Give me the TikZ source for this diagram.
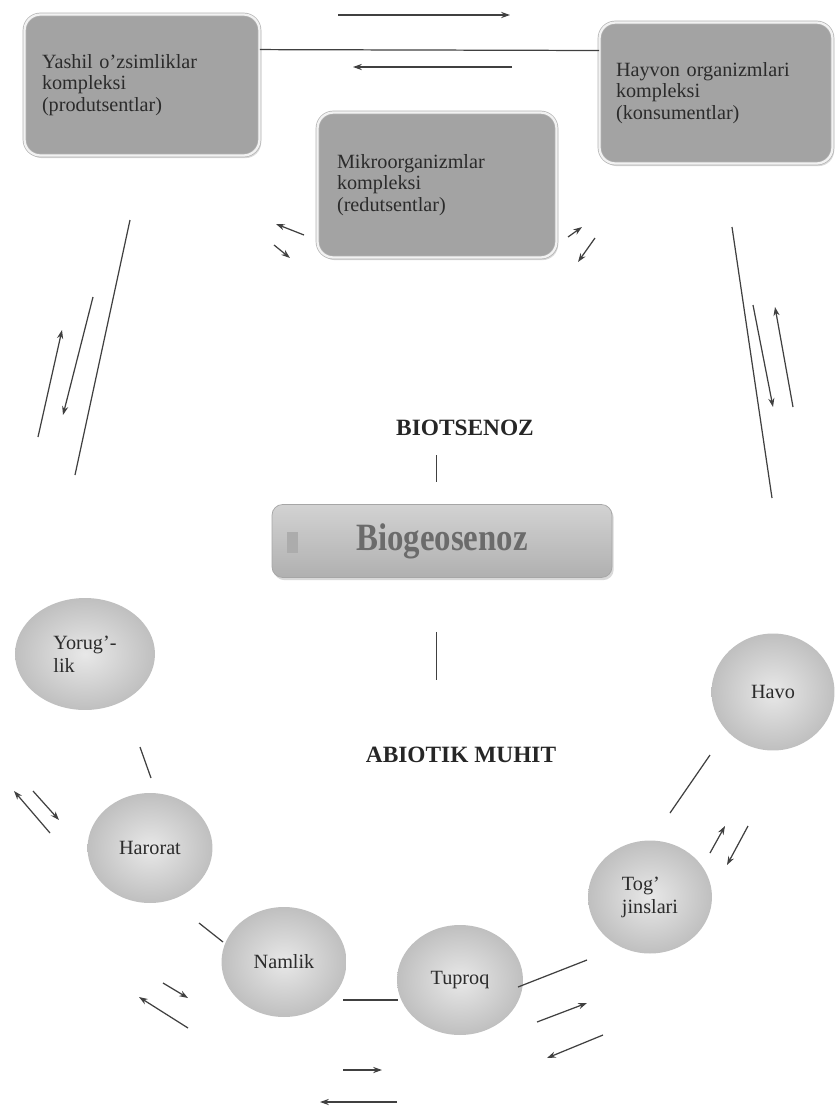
\documentclass[tikz,border=0pt]{standalone}
\usepackage{fontspec}
\setmainfont{Liberation Serif}
\usepackage{tikz}
\usetikzlibrary{shapes.geometric, arrows.meta, calc, shadows}
\definecolor{boxgray}{HTML}{A3A3A3}
\definecolor{inkgray}{HTML}{2B2B2B}
\tikzstyle{complex} = [rectangle, rounded corners=9pt, fill=boxgray, draw=gray!60, double=gray!10, double distance=1.3pt, minimum width=4.7cm, minimum height=2.82cm, text width=4.0cm, align=left, text=inkgray, font=\fontsize{11.5}{12.2}\selectfont, drop shadow={shadow xshift=1pt, shadow yshift=-1.5pt, opacity=0.3}]
\tikzstyle{factor} = [ellipse, inner color=gray!18, outer color=gray!50, minimum width=2.5cm, minimum height=2.2cm, inner sep=1pt, align=left, text=inkgray, font=\fontsize{11.5}{13}\selectfont]
\tikzstyle{title} = [font=\fontsize{13.3}{14}\selectfont\bfseries, text=black!85]
\tikzstyle{link} = [line width=0.7pt, draw=black!75]
\tikzstyle{arrow} = [line width=0.7pt, draw=black!75, ->, >={Stealth[length=5pt, width=3.5pt]}]

\begin{document}
\begin{tikzpicture}[x=0.02cm, y=-0.02cm]
	\useasboundingbox (0,0) rectangle (838,1106);
	% biotic complexes
	\node (Yashil) [complex] at (142,85) {Yashil o’zsimliklar\\kompleksi\\(produtsentlar)};
	\node (Hayvon) [complex, minimum width=4.66cm] at (716,93) {Hayvon organizmlari\\kompleksi\\(konsumentlar)};
	\node (Mikro) [complex, minimum width=4.78cm, minimum height=2.9cm] at (437,185) {Mikroorganizmlar\\kompleksi\\(redutsentlar)};
	\node (Biotsenoz) [title] at (465,428) {BIOTSENOZ};
	\node (Biogeo) [rectangle, rounded corners=6pt, minimum width=6.8cm, minimum height=1.46cm, top color=gray!35, bottom color=gray!62, draw=gray!70, text=black!58, drop shadow={shadow xshift=1pt, shadow yshift=-1.5pt, opacity=0.3}] at (442,541) {\scalebox{0.85}[1]{\fontsize{22}{22}\selectfont\bfseries Biogeosenoz}};
	\fill [gray!65] (287,532) rectangle (298,553);
	\node (Abiotik) [title] at (461,755) {ABIOTIK MUHIT};
	% abiotic factors
	\node (Yorug) [factor, minimum width=2.8cm, minimum height=2.24cm] at (85,654) {Yorug’-\\lik};
	\node (Harorat) [factor] at (150,848) {Harorat};
	\node (Namlik) [factor] at (284,962) {Namlik};
	\node (Tuproq) [factor, minimum width=2.52cm] at (460,980) {Tuproq};
	\node (Tog) [factor, minimum width=2.48cm, minimum height=2.26cm] at (650,897) {Tog’\\jinslari};
	\node (Havo) [factor, minimum width=2.46cm, minimum height=2.34cm] at (773,692) {Havo};
	% free ends
	\coordinate (TopR1) at (338,15); \coordinate (TopR2) at (510,15);
	\coordinate (TopL1) at (512,67); \coordinate (TopL2) at (353,67);
	\coordinate (MikL1) at (304,235); \coordinate (MikL2) at (276,224);
	\coordinate (MikL3) at (274,245); \coordinate (MikL4) at (290,258);
	\coordinate (MikR1) at (568,237); \coordinate (MikR2) at (582,227);
	\coordinate (MikR3) at (595,238); \coordinate (MikR4) at (578,262);
	\coordinate (LeftA) at (130,220); \coordinate (LeftB) at (75,475);
	\coordinate (LeftDn1) at (93,297); \coordinate (LeftDn2) at (63,415);
	\coordinate (LeftUp1) at (38,437); \coordinate (LeftUp2) at (62,330);
	\coordinate (RightA) at (732,227); \coordinate (RightB) at (772,498);
	\coordinate (RightDn1) at (753,305); \coordinate (RightDn2) at (773,407);
	\coordinate (RightUp1) at (793,407); \coordinate (RightUp2) at (775,307);
	\coordinate (YorA) at (140,747); \coordinate (YorB) at (151,778);
	\coordinate (YorUp1) at (50,833); \coordinate (YorUp2) at (14,791);
	\coordinate (YorDn1) at (33,791); \coordinate (YorDn2) at (59,820);
	\coordinate (HarA) at (199,923); \coordinate (HarB) at (223,942);
	\coordinate (NamDn1) at (163,983); \coordinate (NamDn2) at (188,998);
	\coordinate (NamUp1) at (188,1028); \coordinate (NamUp2) at (139,997);
	\coordinate (NamA) at (343,1000); \coordinate (NamB) at (398,1000);
	\coordinate (BotR1) at (343,1070); \coordinate (BotR2) at (382,1070);
	\coordinate (BotL1) at (397,1102); \coordinate (BotL2) at (320,1102);
	\coordinate (TupA) at (518,987); \coordinate (TupB) at (587,960);
	\coordinate (TupUp1) at (537,1022); \coordinate (TupUp2) at (587,1003);
	\coordinate (TupDn1) at (603,1035); \coordinate (TupDn2) at (547,1058);
	\coordinate (TogA) at (670,813); \coordinate (TogB) at (710,755);
	\coordinate (TogUp1) at (710,853); \coordinate (TogUp2) at (725,826);
	\coordinate (TogDn1) at (748,826); \coordinate (TogDn2) at (727,865);
	% connectors
	\draw [arrow] (TopR1) -- (TopR2);
	\draw [link] ($(Yashil.north east)!0.25!(Yashil.south east)$) -- ($(Hayvon.north west)!0.2!(Hayvon.south west)$);
	\draw [arrow] (TopL1) -- (TopL2);
	\draw [arrow] (MikL1) -- (MikL2);
	\draw [arrow] (MikL3) -- (MikL4);
	\draw [arrow] (MikR1) -- (MikR2);
	\draw [arrow] (MikR3) -- (MikR4);
	\draw [link] (LeftA) -- (LeftB);
	\draw [arrow] (LeftDn1) -- (LeftDn2);
	\draw [arrow] (LeftUp1) -- (LeftUp2);
	\draw [link] (RightA) -- (RightB);
	\draw [arrow] (RightDn1) -- (RightDn2);
	\draw [arrow] (RightUp1) -- (RightUp2);
	\draw [link, shorten <=0.26cm, shorten >=0.44cm] ([xshift=-3pt]Biotsenoz.south -| Biogeo.north) -- ([xshift=-3pt]Biogeo.north);
	\draw [link, shorten <=1.08cm, shorten >=1.22cm] ([xshift=-3pt]Biogeo.south) -- ([xshift=-3pt]Abiotik.north -| Biogeo.south);
	\draw [link] (YorA) -- (YorB);
	\draw [arrow] (YorUp1) -- (YorUp2);
	\draw [arrow] (YorDn1) -- (YorDn2);
	\draw [link] (HarA) -- (HarB);
	\draw [arrow] (NamDn1) -- (NamDn2);
	\draw [arrow] (NamUp1) -- (NamUp2);
	\draw [link] (NamA) -- (NamB);
	\draw [arrow] (BotR1) -- (BotR2);
	\draw [arrow] (BotL1) -- (BotL2);
	\draw [link] (TupA) -- (TupB);
	\draw [arrow] (TupUp1) -- (TupUp2);
	\draw [arrow] (TupDn1) -- (TupDn2);
	\draw [link] (TogA) -- (TogB);
	\draw [arrow] (TogUp1) -- (TogUp2);
	\draw [arrow] (TogDn1) -- (TogDn2);
\end{tikzpicture}
\end{document}
